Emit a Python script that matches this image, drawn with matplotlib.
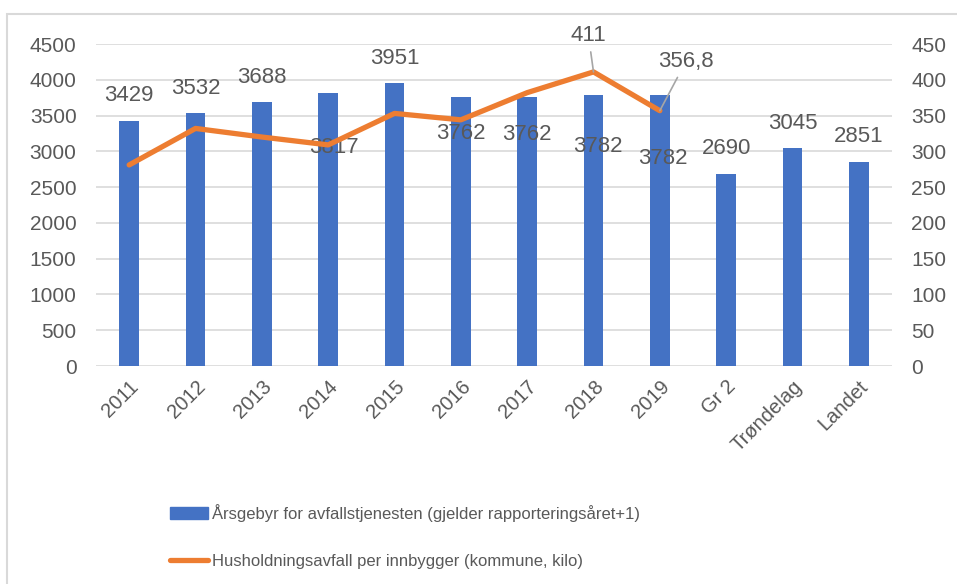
import matplotlib
matplotlib.use("Agg")
import matplotlib.pyplot as plt
from matplotlib.patches import Patch, Rectangle
from matplotlib.lines import Line2D

categories = ["2011", "2012", "2013", "2014", "2015", "2016", "2017", "2018",
              "2019", "Gr 2", "Trøndelag", "Landet"]
fee = [3429, 3532, 3688, 3817, 3951, 3762, 3762, 3782, 3782, 2690, 3045, 2851]
waste_years = categories[:9]
waste = [281, 332, 320, 309, 353, 344, 382, 411, 356.8]
waste_labels = {"2018": "411", "2019": "356,8"}

fee_name = "Årsgebyr for avfallstjenesten (gjelder rapporteringsåret+1)"
waste_name = "Husholdningsavfall per innbygger (kommune, kilo)"

# label offsets (pixels) - the excel chart had some labels dragged around
fee_label_off = [(0, 25), (0, 25), (0, 25), (6, -55), (0, 25), (0, -37),
                 (0, -38), (4, -51), (3, -63), (0, 25), (0, 25), (0, 25)]
waste_label_off = {"2018": (-5, 36), "2019": (26, 49)}

BLUE = "#4472C4"
ORANGE = "#ED7D31"
GREY = "#595959"
GRID = "#D9D9D9"

plt.rcParams["font.family"] = ["Liberation Sans", "DejaVu Sans"]

W, H = 957, 584
fig = plt.figure(figsize=(W / 100, H / 100), dpi=100)

# chart frame (cropped on the right and bottom)
fig.patches.append(Rectangle((7 / W, -0.1), 1.2, 1 - 14 / H + 0.1,
                             transform=fig.transFigure, fill=False,
                             edgecolor=GRID, linewidth=1.5))

ax = fig.add_axes([96 / W, (H - 366) / H, (892 - 96) / W, (366 - 44) / H])
x = list(range(len(categories)))
ax.bar(x, fee, width=0.3, color=BLUE, zorder=2)
ax.set_xlim(-0.5, len(categories) - 0.5)
ax.set_ylim(0, 4500)
ax.set_yticks(range(0, 4501, 500))
ax.grid(axis="y", color=GRID, linewidth=1.2, zorder=0)
ax.set_axisbelow(True)
for s in ax.spines.values():
    s.set_visible(False)
ax.tick_params(length=0, colors=GREY, labelsize=15, pad=14)
ax.set_xticks(x)
ax.set_xticklabels(categories, rotation=45, ha="right", rotation_mode="anchor",
                   fontsize=14.5)
ax.tick_params(axis="x", pad=8)

for i, v in enumerate(fee):
    dx, dy = fee_label_off[i]
    ax.annotate(str(v), (i, v), xytext=(dx, dy), textcoords="offset pixels",
                ha="center", va="center", fontsize=16, color=GREY, zorder=5)

ax2 = ax.twinx()
ax2.set_ylim(0, 450)
ax2.set_yticks(range(0, 451, 50))
for s in ax2.spines.values():
    s.set_visible(False)
ax2.tick_params(length=0, colors=GREY, labelsize=15, pad=14)
xw = [categories.index(c) for c in waste_years]
ax2.plot(xw, waste, color=ORANGE, linewidth=3.8, solid_joinstyle="round",
         solid_capstyle="round", zorder=3)
for c, txt in waste_labels.items():
    i = categories.index(c)
    v = waste[waste_years.index(c)]
    dx, dy = waste_label_off[c]
    ax2.annotate(txt, (i, v), xytext=(dx, dy), textcoords="offset pixels",
                 ha="center", va="center", fontsize=16, color=GREY,
                 arrowprops=dict(arrowstyle="-", color="#A6A6A6", lw=1.2,
                                 shrinkA=2, shrinkB=0))

handles = [Patch(facecolor=BLUE, edgecolor=BLUE),
           Line2D([0], [0], color=ORANGE, linewidth=3.8, solid_capstyle="round")]
fig.legend(handles, [fee_name, waste_name], loc="upper left",
           bbox_to_anchor=(170 / W, 1 - 504 / H), frameon=False,
           fontsize=12, labelcolor=GREY, handlelength=2.3,
           handletextpad=0.2, labelspacing=1.9, borderpad=0, borderaxespad=0)

fig.savefig("out.png", dpi=100)
